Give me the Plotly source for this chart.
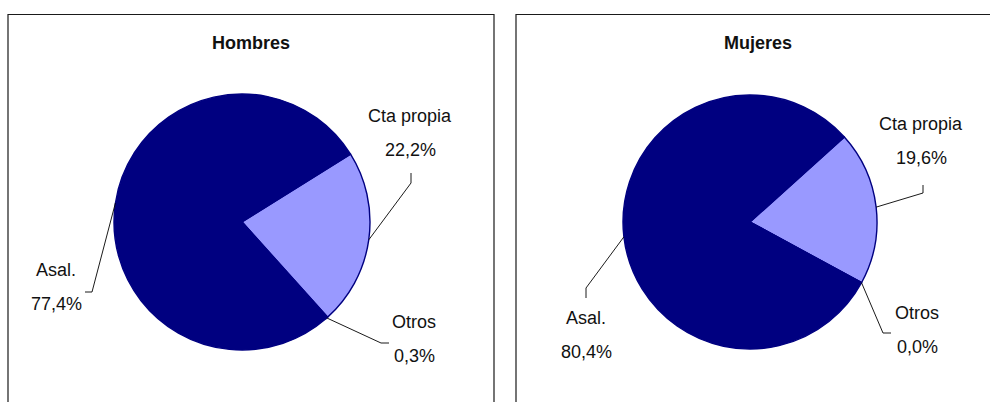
import math
import plotly.graph_objects as go

W, H = 990, 402

categorias = ["Cta propia", "Otros", "Asal."]
hombres = [22.2, 0.3, 77.4]
mujeres = [19.6, 0.0, 80.4]
titulos = ["Hombres", "Mujeres"]
colores = ["#9999FF", "#000080", "#000080"]

FONT = "Liberation Sans, Arial, sans-serif"

# geometria de cada torta en px: centro, radio, giro inicial (grados, sentido horario)
tortas = [
    dict(cx=242, cy=222, r=128, rot=58, caja=(8, 494), titulo_x=251),
    dict(cx=750, cy=222, r=127, rot=48, caja=(516, 1000), titulo_x=758),
]

# lineas guia: codo, fin y centro del texto, relativos al centro de la torta (px)
guias = [
    {
        "Cta propia": dict(codo=(169, -39), fin=(169, -49), txt=(168, -106)),
        "Otros": dict(codo=(139, 121), fin=(147, 121), txt=(172, 100)),
        "Asal.": dict(codo=(-150, 70), fin=(-157, 70), txt=(-186, 48)),
    },
    {
        "Cta propia": dict(codo=(173, -29), fin=(173, -37), txt=(171, -98)),
        "Otros": dict(codo=(133, 111), fin=(141, 111), txt=(167, 91)),
        "Asal.": dict(codo=(-164, 66), fin=(-164, 76), txt=(-164, 96)),
    },
]
SALTO = 34  # distancia entre nombre y porcentaje


def px(x, y):
    return x / W, 1 - y / H


fig = go.Figure()
shapes, annotations = [], []

for datos, t, g, titulo in zip([hombres, mujeres], tortas, guias, titulos):
    x0, y0 = px(t["cx"] - t["r"], t["cy"] + t["r"])
    x1, y1 = px(t["cx"] + t["r"], t["cy"] - t["r"])
    fig.add_trace(go.Pie(
        labels=categorias, values=datos, sort=False, direction="clockwise",
        rotation=t["rot"], textinfo="none", showlegend=False,
        marker=dict(colors=colores, line=dict(color="#000080", width=1.4)),
        domain=dict(x=[x0, x1], y=[y0, y1]),
    ))

    # marco del grafico
    shapes.append(dict(type="rect", xref="paper", yref="paper",
                       x0=t["caja"][0] / W, x1=t["caja"][1] / W,
                       y0=-0.05, y1=1 - 14.5 / H,
                       line=dict(color="#1a1a1a", width=1.2), fillcolor="rgba(0,0,0,0)"))

    tx, ty = px(t["titulo_x"], 43)
    annotations.append(dict(x=tx, y=ty, xref="paper", yref="paper", text=titulo,
                            showarrow=False, xanchor="center", yanchor="middle",
                            font=dict(family=FONT, size=18, color="#111", weight="bold")))

    total = sum(datos)
    acum = 0
    for cat, v in zip(categorias, datos):
        # angulo medio del sector (grados brujula, horario desde las 12)
        medio = t["rot"] + (acum + v / 2) / total * 360
        acum += v
        a = math.radians(medio)
        sx = t["cx"] + t["r"] * math.sin(a)
        sy = t["cy"] - t["r"] * math.cos(a)
        gg = g[cat]
        pts = [(sx, sy),
               (t["cx"] + gg["codo"][0], t["cy"] + gg["codo"][1]),
               (t["cx"] + gg["fin"][0], t["cy"] + gg["fin"][1])]
        path = "M " + " L ".join(f"{p[0] / W} {1 - p[1] / H}" for p in pts)
        shapes.append(dict(type="path", xref="paper", yref="paper", path=path,
                           line=dict(color="#000", width=0.9)))
        pct = f"{v:.1f}".replace(".", ",") + "%"
        for k, txt in enumerate([cat, pct]):
            ax, ay = px(t["cx"] + gg["txt"][0], t["cy"] + gg["txt"][1] + k * SALTO)
            annotations.append(dict(x=ax, y=ay, xref="paper", yref="paper", text=txt,
                                    showarrow=False, xanchor="center", yanchor="middle",
                                    font=dict(family=FONT, size=18, color="#111")))

fig.update_layout(
    width=W, height=H, margin=dict(l=0, r=0, t=0, b=0),
    paper_bgcolor="white", plot_bgcolor="white",
    shapes=shapes, annotations=annotations,
)

fig.write_html("out.html", config={"displayModeBar": False},
               post_script="document.body.style.margin='0';")
